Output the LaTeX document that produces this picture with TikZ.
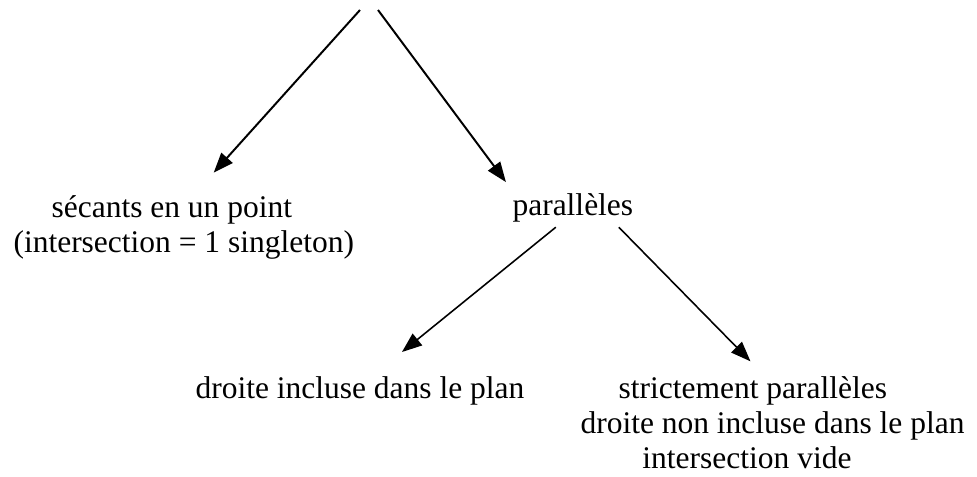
\documentclass[tikz,border=0pt]{standalone}
\usepackage{fontspec}
\setmainfont{Liberation Serif}
\usetikzlibrary{arrows.meta}
\tikzset{
    lbl/.style={inner sep=0pt, align=left, font=\fontsize{12}{13.3}\selectfont},% text labels, no frame
    arr/.style={-{Triangle[length=7.6pt,width=5.7pt]}, line width=0.75pt},
    thinarr/.style={arr, line width=0.6pt},
}

\begin{document}
\begin{tikzpicture}[x=0.381pt,y=-0.381pt]
    \useasboundingbox (0,0) rectangle (977,476);
    % free ends at the top
    \coordinate (topL) at (360,10);
    \coordinate (topR) at (378,10);
    \node(secants) [lbl, anchor=base west] at (13,252)
        {\hspace*{14.5pt}sécants en un point\\(intersection = 1 singleton)};
    \node(paralleles) [lbl, anchor=base west] at (512,215) {parallèles};
    \node(incluse) [lbl, anchor=base west] at (195,398) {droite incluse dans le plan};
    \node(strict) [lbl, anchor=base west] at (580,468)
        {\hspace*{14.5pt}strictement parallèles\\droite non incluse dans le plan\\\hspace*{23.6pt}intersection vide};
    \draw[arr] (topL) -- ([xshift=11.4pt,yshift=8.4pt]secants.north);
    \draw[arr] (topR) -- ([xshift=-25.5pt,yshift=4pt]paralleles.north);
    \draw[thinarr] ([xshift=-6.5pt,yshift=-1.9pt]paralleles.south) -- ([xshift=16pt,yshift=9pt]incluse.north);
    \draw[thinarr] ([xshift=17.5pt,yshift=-1.9pt]paralleles.south) -- ([xshift=-8.4pt,yshift=5.5pt]strict.north);
\end{tikzpicture}
\end{document}
